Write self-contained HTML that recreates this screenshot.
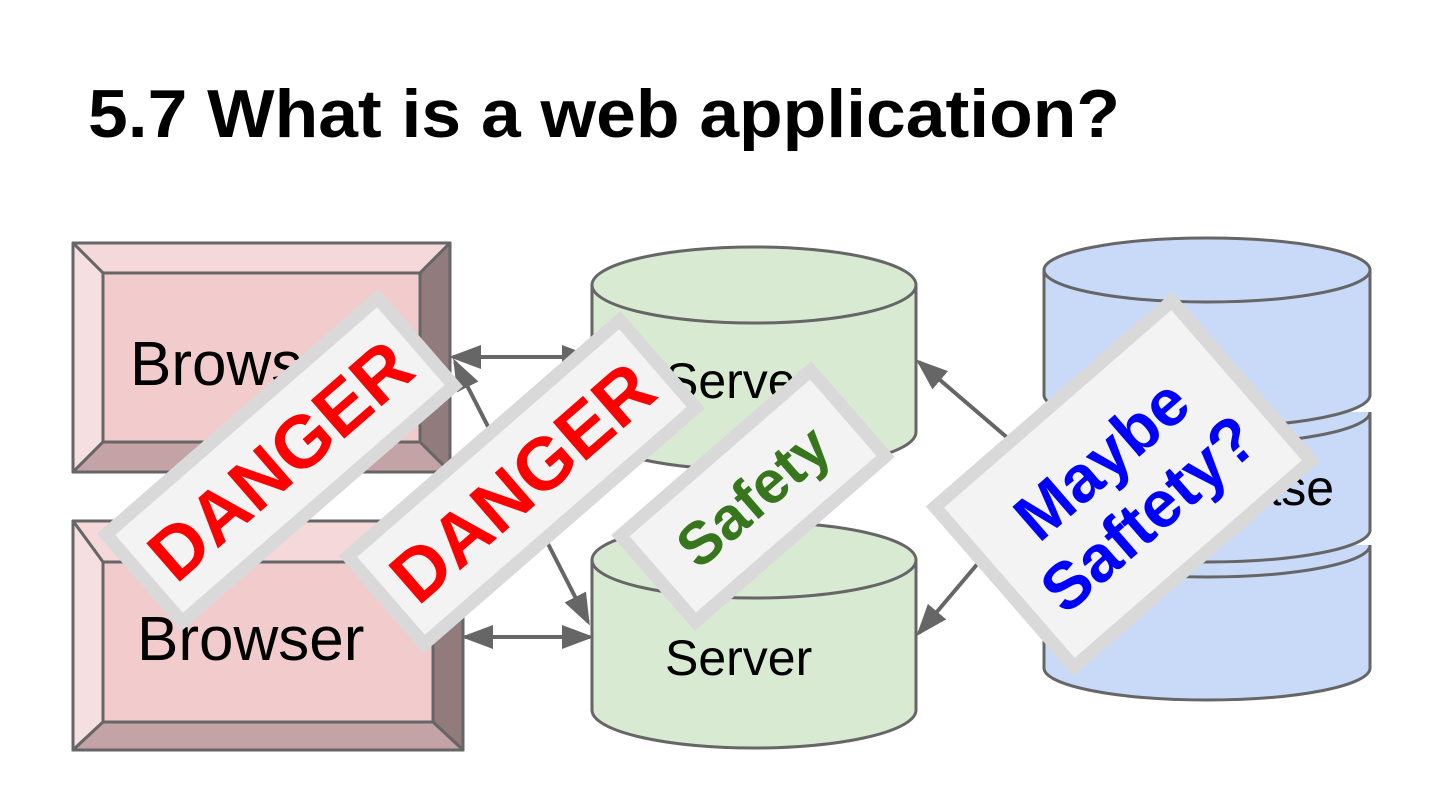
<!DOCTYPE html>
<html><head><meta charset="utf-8"><style>
html,body{margin:0;padding:0;background:#fff;}
svg{display:block;font-family:"Liberation Sans",Arial,sans-serif;}
</style></head><body>
<svg width="1440" height="810" viewBox="0 0 1440 810" xmlns="http://www.w3.org/2000/svg">
<defs>
<marker id="a2" markerWidth="32" markerHeight="28" refX="28" refY="14" orient="auto-start-reverse" markerUnits="userSpaceOnUse" viewBox="0 0 32 28"><path d="M0,2 L32,14 L0,26 z" fill="#666"/></marker>
</defs>
<text x="88" y="137" font-size="68" font-weight="bold" textLength="1032" lengthAdjust="spacingAndGlyphs">5.7 What is a web application?</text>

<!-- Browser 1 -->
<g stroke="#666" stroke-width="3" stroke-linejoin="round">
<rect x="73" y="243" width="377" height="229" fill="#f2cccd"/>
<polygon points="73,243 450,243 420,273 103,273" fill="#f4d8da"/>
<polygon points="73,243 103,273 103,442 73,472" fill="#f6dfe0"/>
<polygon points="450,243 450,472 420,442 420,273" fill="#917b7c"/>
<polygon points="73,472 103,442 420,442 450,472" fill="#c3a3a5"/>
</g>
<text x="130" y="385" font-size="62">Browser</text>
<!-- Browser 2 -->
<g stroke="#666" stroke-width="3" stroke-linejoin="round">
<rect x="73" y="521" width="390" height="229" fill="#f2cccd"/>
<polygon points="73,521 463,521 433,562 103,562" fill="#f4d8da"/>
<polygon points="73,521 103,562 103,722 73,750" fill="#f6dfe0"/>
<polygon points="463,521 463,750 433,722 433,562" fill="#917b7c"/>
<polygon points="73,750 103,722 433,722 463,750" fill="#c3a3a5"/>
</g>
<text x="137" y="660" font-size="62">Browser</text>

<!-- Server 1 -->
<g stroke="#666" stroke-width="3" fill="#d9ead3">
<path d="M592,285 L592,432 A162,38 0 0 0 916,432 L916,285"/>
<ellipse cx="754" cy="285" rx="162" ry="38"/>
</g>
<text x="665" y="398" font-size="50">Server</text>
<!-- Server 2 -->
<g stroke="#666" stroke-width="3" fill="#d9ead3">
<path d="M592,560 L592,710 A162,38 0 0 0 916,710 L916,560"/>
<ellipse cx="754" cy="560" rx="162" ry="38"/>
</g>
<text x="665" y="675" font-size="50">Server</text>

<!-- Database -->
<g stroke="#666" stroke-width="3" fill="#c9daf8">
<path d="M1044,545 L1044,668 A163,32 0 0 0 1370,668 L1370,545"/>
<path d="M1044,545 A163,32 0 0 0 1370,545" fill="none"/>
<path d="M1044,412 L1044,530 A163,32 0 0 0 1370,530 L1370,412"/>
<path d="M1044,412 A163,32 0 0 0 1370,412" fill="none"/>
<path d="M1044,270 L1044,395 A163,32 0 0 0 1370,395 L1370,270"/>
<ellipse cx="1207" cy="270" rx="163" ry="32"/>
</g>
<text x="1120" y="505" font-size="50">Database</text>

<!-- connectors -->
<g stroke="#666" stroke-width="4" fill="none">
<line x1="453" y1="357" x2="590" y2="357" marker-start="url(#a2)" marker-end="url(#a2)"/>
<line x1="465" y1="637" x2="590" y2="637" marker-start="url(#a2)" marker-end="url(#a2)"/>
<line x1="455" y1="362" x2="588" y2="622" marker-start="url(#a2)" marker-end="url(#a2)"/>
<line x1="1010" y1="440" x2="919" y2="362" marker-end="url(#a2)"/>
<line x1="985" y1="555" x2="919" y2="633" marker-end="url(#a2)"/>
</g>

<!-- signs -->
<g transform="translate(280,460) rotate(-41)">
<rect x="-180" y="-58" width="360" height="116" fill="#f3f3f3" stroke="#d9d9d9" stroke-width="13"/>
<text x="0" y="26" font-size="74" font-weight="bold" fill="#ff0000" text-anchor="middle">DANGER</text>
</g>
<g transform="translate(522,482) rotate(-41)">
<rect x="-180" y="-58" width="360" height="116" fill="#f3f3f3" stroke="#d9d9d9" stroke-width="13"/>
<text x="0" y="26" font-size="74" font-weight="bold" fill="#ff0000" text-anchor="middle">DANGER</text>
</g>
<g transform="translate(753,496) rotate(-41)">
<rect x="-126" y="-57" width="252" height="114" fill="#f3f3f3" stroke="#d9d9d9" stroke-width="13"/>
<text x="0" y="21" font-size="60" font-weight="bold" fill="#38761d" text-anchor="middle">Safety</text>
</g>
<g transform="translate(1123,484) rotate(-41)">
<rect x="-157" y="-106" width="314" height="212" fill="#f3f3f3" stroke="#d9d9d9" stroke-width="13"/>
<text x="0" y="-10" font-size="66" font-weight="bold" fill="#0000ff" text-anchor="middle">Maybe</text>
<text x="0" y="62" font-size="66" font-weight="bold" fill="#0000ff" text-anchor="middle">Saftety?</text>
</g>
</svg>
</body></html>
